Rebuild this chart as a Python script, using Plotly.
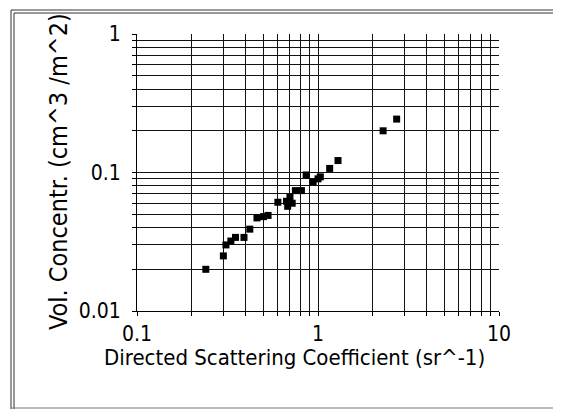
import plotly.graph_objects as go

# directed scattering coefficient (sr^-1) vs volume concentration (cm^3/m^2)
scatter_coef = [0.24, 0.30, 0.31, 0.33, 0.35, 0.39, 0.42, 0.46, 0.50, 0.53,
                0.60, 0.67, 0.68, 0.70, 0.72, 0.75, 0.81, 0.86, 0.94, 1.00,
                1.03, 1.16, 1.29, 2.29, 2.72]
vol_conc = [0.020, 0.025, 0.030, 0.032, 0.034, 0.034, 0.039, 0.047, 0.048, 0.049,
            0.061, 0.062, 0.057, 0.066, 0.060, 0.074, 0.074, 0.096, 0.086, 0.090,
            0.093, 0.107, 0.122, 0.200, 0.243]

x_grid = [m * d for d in (0.1, 1) for m in range(1, 10)] + [10]
x_text = ["0.1"] + [""] * 8 + ["1"] + [""] * 8 + ["10"]
y_grid = [m * d for d in (0.01, 0.1) for m in range(1, 10)] + [1]
y_text = ["0.01"] + [""] * 8 + ["0.1"] + [""] * 8 + ["1"]

FONT = "DejaVu Sans Condensed"

# page body keeps its default 8px margin, so the figure is 8px smaller each way
W, H = 553, 403
L, R, T, B = 129, 62, 26, 100
PW, PH = W - L - R, H - T - B


def px(x):
    return (x - L) / PW


def py(y):
    return (H - B - y) / PH


fig = go.Figure()

fig.add_trace(go.Scatter(
    x=scatter_coef,
    y=vol_conc,
    mode="markers",
    marker=dict(symbol="square", size=7, color="black"),
    showlegend=False
))

axis_style = dict(
    type="log",
    showgrid=True,
    gridcolor="#111111",
    gridwidth=1,
    showline=True,
    linecolor="black",
    linewidth=1,
    ticks="outside",
    ticklen=4,
    tickcolor="black",
    zeroline=False,
    automargin=False,
    tickfont=dict(family=FONT, size=21, color="black"),
)

fig.update_xaxes(axis_style, range=[-1, 1], tickmode="array",
                 tickvals=x_grid, ticktext=x_text, ticklabelstandoff=0)
fig.update_yaxes(axis_style, range=[-2, 0], tickmode="array",
                 tickvals=y_grid, ticktext=y_text, ticklabelstandoff=7)

# axis titles placed as annotations to sit where the original has them
fig.add_annotation(
    text="Directed Scattering Coefficient (sr^-1)",
    xref="paper", yref="paper", x=px(286), y=py(349),
    showarrow=False, xanchor="center", yanchor="middle",
    font=dict(family=FONT, size=22, color="black")
)
fig.add_annotation(
    text="Vol. Concentr. (cm^3 /m^2)",
    xref="paper", yref="paper", x=px(50), y=py(164),
    showarrow=False, textangle=-90, xanchor="center", yanchor="middle",
    font=dict(family=FONT, size=25, color="black")
)

# outer frame (double line on the left and top)
for off in (0, 3):
    fig.add_shape(type="line", xref="paper", yref="paper",
                  x0=px(3 + off), x1=px(3 + off),
                  y0=py(2 + off), y1=py(401),
                  line=dict(color="#333333", width=1))
    fig.add_shape(type="line", xref="paper", yref="paper",
                  x0=px(3 + off), x1=px(W),
                  y0=py(2 + off), y1=py(2 + off),
                  line=dict(color="#333333", width=1))
fig.add_shape(type="line", xref="paper", yref="paper",
              x0=px(3), x1=px(W), y0=py(400), y1=py(400),
              line=dict(color="#777777", width=1))

fig.update_layout(
    width=W,
    height=H,
    margin=dict(l=L, r=R, t=T, b=B),
    plot_bgcolor="white",
    paper_bgcolor="white",
)

fig.write_html("out.html")
